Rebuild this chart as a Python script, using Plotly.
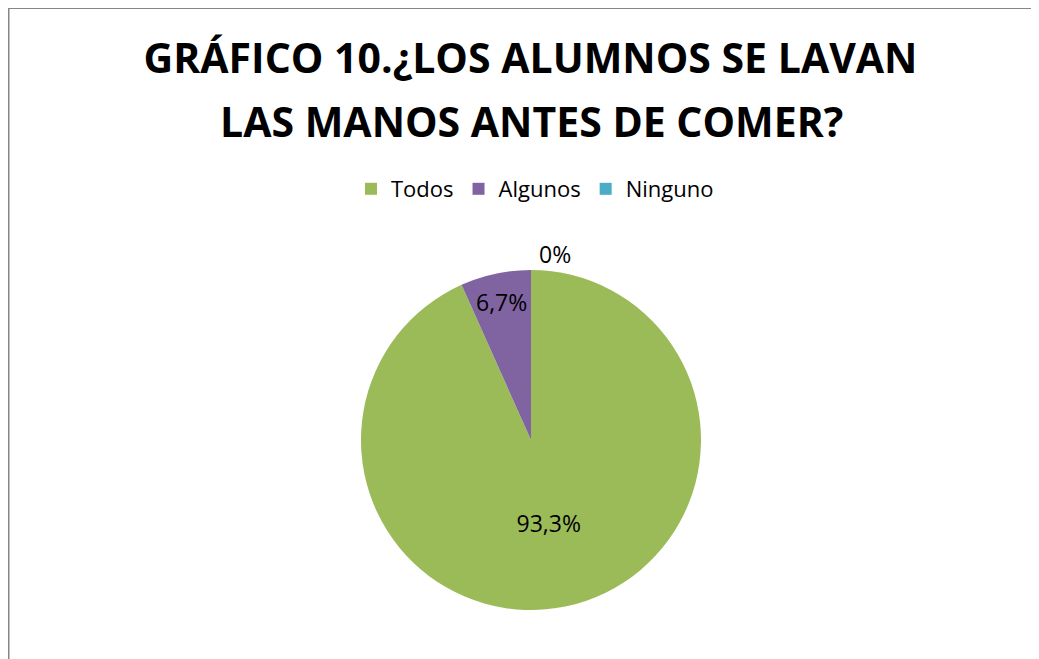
import plotly.graph_objects as go

categories = ["Todos", "Algunos", "Ninguno"]
values = [93.3, 6.7, 0.0]
label_texts = ["93,3%", "6,7%", "0%"]
colors = ["#9BBB59", "#8064A2", "#4BACC6"]
title_lines = ["GRÁFICO 10.¿LOS ALUMNOS SE LAVAN", "LAS MANOS ANTES DE COMER?"]

# page body has an 8px margin, so the figure starts at (8, 8) on screen
W, H = 1031, 651
cx, cy, r = 523, 432, 170

fig = go.Figure(go.Pie(
    labels=categories,
    values=values,
    text=label_texts,
    texttemplate="%{text}",
    textinfo="text",
    textposition=["inside", "inside", "outside"],
    insidetextorientation="horizontal",
    sort=False,
    direction="clockwise",
    rotation=0,
    marker=dict(colors=colors, line=dict(width=0)),
    textfont=dict(family="Open Sans", size=23, color="#000000"),
    domain=dict(x=[(cx - r) / W, (cx + r) / W], y=[(H - cy - r) / H, (H - cy + r) / H]),
    showlegend=True,
    hoverinfo="label+percent",
))

fig.update_layout(
    width=W, height=H,
    margin=dict(l=0, r=0, t=0, b=0),
    paper_bgcolor="white",
    plot_bgcolor="white",
    uniformtext=dict(minsize=23, mode="show"),
    title=dict(
        text="<b>" + title_lines[0] + "</b>",
        x=522.5 / W, xanchor="center",
        y=1 - 51 / H, yanchor="middle",
        font=dict(family="Open Sans", size=41, color="#000000"),
    ),
    annotations=[
        dict(text="<b>" + title_lines[1] + "</b>", xref="paper", yref="paper",
             x=523 / W, y=1 - 113 / H, xanchor="center", yanchor="middle", showarrow=False,
             font=dict(family="Open Sans", size=41, color="#000000")),
    ],
    legend=dict(
        orientation="h",
        x=527 / W, xanchor="center",
        y=1 - 181 / H, yanchor="middle",
        font=dict(family="Open Sans", size=22, color="#000000"),
        itemwidth=30,
    ),
    shapes=[
        dict(type="line", xref="paper", yref="paper", x0=0, x1=1.02, y0=1, y1=1,
             line=dict(color="#868686", width=2)),
        dict(type="line", xref="paper", yref="paper", x0=0, x1=0, y0=-0.02, y1=1,
             line=dict(color="#868686", width=3)),
    ],
)

fig.write_html("out.html")
